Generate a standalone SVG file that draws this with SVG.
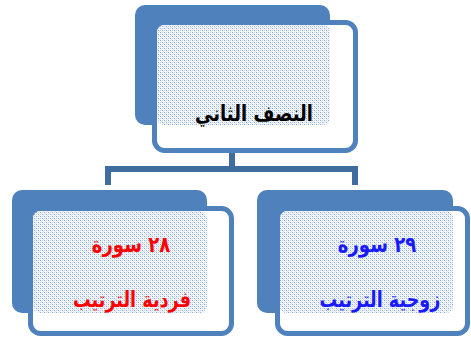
<svg xmlns="http://www.w3.org/2000/svg" width="471" height="341" viewBox="0 0 471 341">
<defs>
<pattern id="dots" width="4" height="4" patternUnits="userSpaceOnUse">
<rect width="4" height="4" fill="#f4f7fb"/>
<rect x="0" y="0" width="1" height="1" fill="#8eabd6"/>
<rect x="2" y="2" width="1" height="1" fill="#8eabd6"/>
<rect x="2" y="0" width="1" height="1" fill="#c3d3eb"/>
<rect x="0" y="2" width="1" height="1" fill="#c3d3eb"/>
<rect x="1" y="1" width="1" height="1" fill="#dde6f3"/>
<rect x="3" y="3" width="1" height="1" fill="#dde6f3"/>
</pattern>
<style>
.back{fill:#4f81bd;}
.front{fill:#ffffff;stroke:#4f81bd;stroke-width:5;}
.pat{fill:url(#dots);}
.conn{fill:none;stroke:#3f6d9f;stroke-width:6;}
.t{font-family:"DejaVu Sans",sans-serif;font-weight:bold;font-size:22px;text-anchor:middle;direction:rtl;}
</style>
</defs>
<g id="connectors">
<path class="conn" d="M232,152 V169 M108,185 V169 H355 V185"/>
</g>
<g id="node-top">
<rect class="back" x="135" y="5" width="195" height="120" rx="10"/>
<rect class="front" x="154.5" y="22.5" width="201" height="128" rx="10"/>
<rect class="pat" x="157" y="25" width="173" height="100" rx="7"/>
<text class="t" transform="translate(254,121) scale(0.82,1)" fill="#000000">النصف الثاني</text>
</g>
<g id="node-left">
<rect class="back" x="12" y="190" width="195" height="123" rx="10"/>
<rect class="front" x="30.5" y="208.5" width="201" height="125" rx="10"/>
<rect class="pat" x="33" y="211" width="174" height="102" rx="7"/>
<text class="t" transform="translate(131,252) scale(0.82,1)" fill="#ff0000">٢٨ سورة</text>
<text class="t" transform="translate(132,307) scale(0.8,1)" fill="#ff0000">فردية الترتيب</text>
</g>
<g id="node-right">
<rect class="back" x="257" y="190" width="196" height="123" rx="10"/>
<rect class="front" x="277.5" y="208.5" width="190" height="125" rx="10"/>
<rect class="pat" x="280" y="211" width="173" height="102" rx="7"/>
<text class="t" transform="translate(377,252) scale(0.82,1)" fill="#1a1aff">٢٩ سورة</text>
<text class="t" transform="translate(380,307) scale(0.8,1)" fill="#1a1aff">زوجية الترتيب</text>
</g>
</svg>
